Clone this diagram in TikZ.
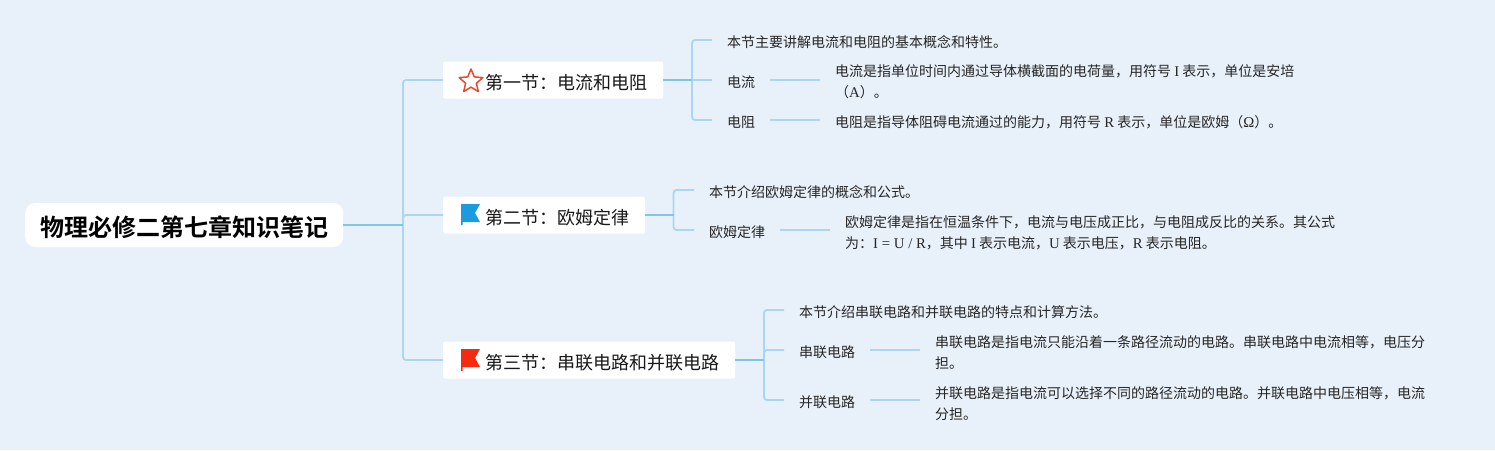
\documentclass[tikz,border=0pt]{standalone}
\usepackage{fontspec}
\setmainfont{Liberation Serif}
\newfontfamily\cjk[BoldFont={Noto Sans CJK SC Bold}]{Noto Sans CJK SC}
\newcommand{\lat}[1]{{\rmfamily\fontsize{14.8}{21}\selectfont #1}}
\begin{document}
\begin{tikzpicture}[x=1pt,y=-1pt,
  rootbox/.style={fill=white,rounded corners=10pt,inner xsep=15pt,inner ysep=0pt,minimum height=44pt,text height=23pt,text depth=0.8pt,anchor=west,text=black,font=\cjk\fontsize{24}{28}\selectfont\bfseries},
  secbox/.style={fill=white,rounded corners=1.5pt,inner xsep=15pt,inner ysep=0pt,minimum height=37pt,text height=19.5pt,text depth=0.3pt,anchor=west,text=black!90,font=\cjk\fontsize{18}{22}\selectfont},
  leaf/.style={inner xsep=15pt,inner ysep=2pt,anchor=west,text=black!85,font=\cjk\fontsize{14}{21}\selectfont,align=left},
  leafone/.style={leaf,text height=15pt,text depth=0.4pt},
  conn/.style={draw=linelight,line width=1.8pt,rounded corners=3pt},
  stub/.style={draw=linedark,line width=1.8pt},
  sub/.style={draw=linelight,line width=1.5pt}
]
\definecolor{bg}{HTML}{E8F1FA}
\definecolor{linelight}{HTML}{A9D7EF}
\definecolor{linedark}{HTML}{7EC5E8}
\definecolor{starred}{HTML}{E8492F}
\definecolor{flagblue}{HTML}{1A9BE0}
\definecolor{flagred}{HTML}{F52A10}
\fill[bg] (0,0) rectangle (1495,450);
\useasboundingbox (0,0) rectangle (1495,450);

% junction points
\coordinate (j0) at (403,225);
\coordinate (j1) at (692,80);
\coordinate (j2) at (673.5,215);
\coordinate (j3) at (764,360);

% main nodes
\node[rootbox] (root) at (25,225) {物理必修二第七章知识笔记};
\node[secbox] (s1) at (443,80) {\hspace*{27pt}第一节：电流和电阻\hspace*{1pt}};
\node[secbox] (s2) at (443,215) {\hspace*{27pt}第二节：欧姆定律\hspace*{1pt}};
\node[secbox] (s3) at (443,360) {\hspace*{27pt}第三节：串联电路和并联电路\hspace*{1pt}};

% section 1
\node[leafone] (a0) at (712,40) {本节主要讲解电流和电阻的基本概念和特性。};
\node[leafone] (a1) at (712,80) {电流};
\node[leafone] (a2) at (712,120) {电阻};
\node[leaf] (a1d) at (820,82) {电流是指单位时间内通过导体横截面的电荷量，用符号 \lat{I} 表示，单位是安培\\（\lat{A}）。};
\node[leaf] (a2d) at (820,122) {电阻是指导体阻碍电流通过的能力，用符号 \lat{R} 表示，单位是欧姆（\lat{Ω}）。};

% section 2
\node[leafone] (b0) at (694,190) {本节介绍欧姆定律的概念和公式。};
\node[leafone] (b1) at (694,230) {欧姆定律};
\node[leaf] (b1d) at (830,233) {欧姆定律是指在恒温条件下，电流与电压成正比，与电阻成反比的关系。其公式\\为：\lat{I = U / R}，其中 \lat{I} 表示电流，\lat{U} 表示电压，\lat{R} 表示电阻。};

% section 3
\node[leafone] (c0) at (784,310) {本节介绍串联电路和并联电路的特点和计算方法。};
\node[leafone] (c1) at (784,350) {串联电路};
\node[leafone] (c2) at (784,400) {并联电路};
\node[leaf] (c1d) at (920,352.5) {串联电路是指电流只能沿着一条路径流动的电路。串联电路中电流相等，电压分\\担。};
\node[leaf] (c2d) at (920,403.5) {并联电路是指电流可以选择不同的路径流动的电路。并联电路中电压相等，电流\\分担。};

% connectors: root to sections
\draw[conn] (j0) -- (j0 |- s1.west) -- (s1.west);
\draw[conn] (j0) -- (j0 |- s2.west) -- (s2.west);
\draw[conn] (j0) -- (j0 |- s3.west) -- (s3.west);
\draw[stub] (root.east) -- (j0);

% section 1 connectors
\draw[conn] (j1) -- (j1 |- a0.west) -- (a0.west);
\draw[conn] (j1) -- (a1.west);
\draw[conn] (j1) -- (j1 |- a2.west) -- (a2.west);
\draw[stub] (s1.east) -- (j1);
\draw[sub] (a1.east) -- (a1d.west |- a1.east);
\draw[sub] (a2.east) -- (a2d.west |- a2.east);

% section 2 connectors
\draw[conn] (j2) -- (j2 |- b0.west) -- (b0.west);
\draw[conn] (j2) -- (j2 |- b1.west) -- (b1.west);
\draw[stub] (s2.east) -- (j2);
\draw[sub] (b1.east) -- (b1d.west |- b1.east);

% section 3 connectors
\draw[conn] (j3) -- (j3 |- c0.west) -- (c0.west);
\draw[conn] (j3) -- (j3 |- c1.west) -- (c1.west);
\draw[conn] (j3) -- (j3 |- c2.west) -- (c2.west);
\draw[stub] (s3.east) -- (j3);
\draw[sub] (c1.east) -- (c1d.west |- c1.east);
\draw[sub] (c2.east) -- (c2d.west |- c2.east);

% icons
\draw[starred,line width=1.5pt,line join=round,fill=white]
  (471,69) -- (474.3,76.9) -- (482.9,77.6) -- (476.4,83.2) -- (478.3,91.6) -- (471,87.1) -- (463.7,91.6) -- (465.6,83.2) -- (459.1,77.6) -- (467.7,76.9) -- cycle;
\fill[flagblue] (461,204) -- (480,204) -- (475,213) -- (480,222) -- (462.5,222) -- (462.5,225) -- (461,225) -- cycle;
\fill[flagred] (461,349) -- (480,349) -- (475,358) -- (480,367) -- (462.5,367) -- (462.5,371) -- (461,371) -- cycle;
\end{tikzpicture}
\end{document}
